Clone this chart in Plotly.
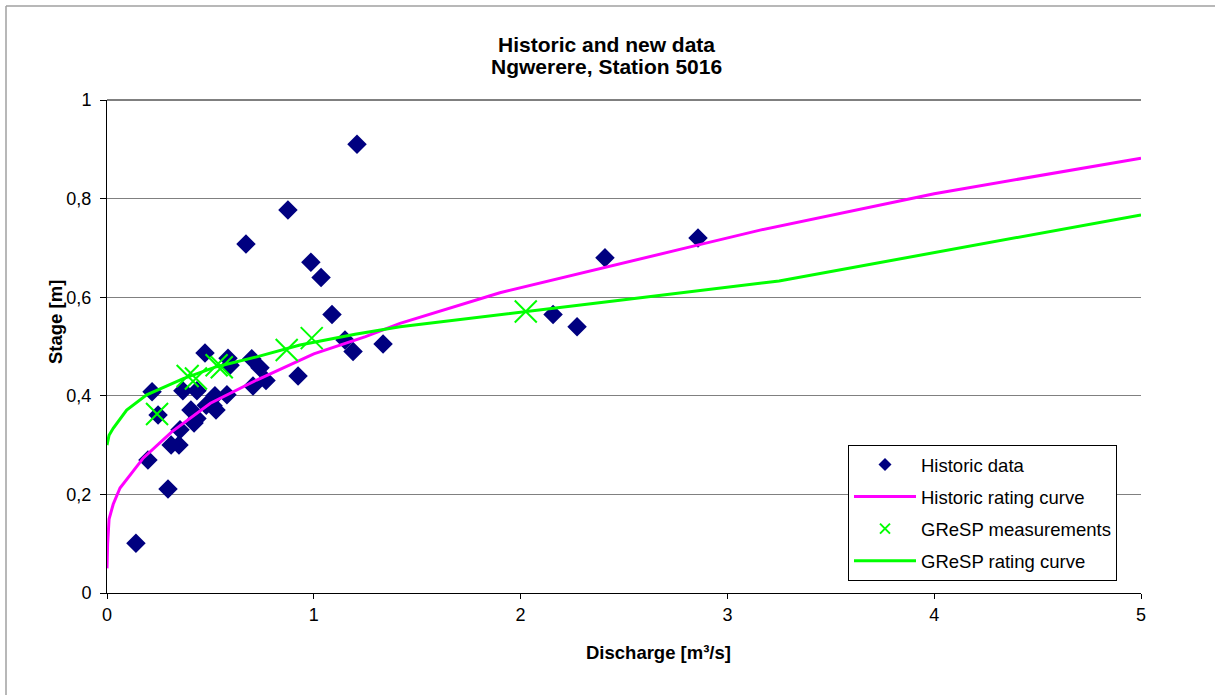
import plotly.graph_objects as go

# Historic data (discharge m3/s, stage m)
hist_q = [0.14, 0.198, 0.218, 0.247, 0.295, 0.31, 0.348, 0.353, 0.367, 0.406, 0.421, 0.435,
          0.435, 0.474, 0.48, 0.513, 0.522, 0.527, 0.58, 0.585, 0.595, 0.672, 0.70, 0.706,
          0.74, 0.769, 0.875, 0.924, 0.986, 1.035, 1.088, 1.151, 1.19, 1.209, 1.335,
          2.157, 2.273, 2.408, 2.858]
hist_h = [0.101, 0.27, 0.408, 0.361, 0.211, 0.30, 0.30, 0.331, 0.41, 0.371, 0.345, 0.41,
          0.354, 0.487, 0.381, 0.38, 0.40, 0.371, 0.402, 0.476, 0.462, 0.708, 0.475, 0.42,
          0.457, 0.431, 0.777, 0.44, 0.671, 0.64, 0.565, 0.513, 0.49, 0.91, 0.505,
          0.565, 0.54, 0.68, 0.72]

# Historic rating curve
hrc_q = [0.0, 0.003, 0.01, 0.03, 0.063, 0.176, 0.313, 0.5, 0.724, 1.0, 1.25, 1.417,
         1.9, 2.3, 2.8, 3.158, 4.0, 5.0]
hrc_h = [0.05, 0.10, 0.15, 0.18, 0.213, 0.274, 0.327, 0.385, 0.432, 0.485, 0.52, 0.547,
         0.609, 0.65, 0.70, 0.736, 0.81, 0.882]

# GReSP measurements
gm_q = [0.242, 0.39, 0.43, 0.53, 0.555, 0.869, 0.99, 2.025]
gm_h = [0.363, 0.44, 0.435, 0.462, 0.458, 0.493, 0.517, 0.571]

# GReSP rating curve
grc_q = [0.0, 0.01, 0.03, 0.095, 0.192, 0.369, 0.53, 0.724, 0.933, 1.2, 1.417, 1.9,
         2.5, 3.25, 4.0, 5.0]
grc_h = [0.30, 0.32, 0.334, 0.371, 0.402, 0.435, 0.459, 0.479, 0.503, 0.525, 0.54, 0.565,
         0.595, 0.633, 0.69, 0.767]

x_ticks = [0, 1, 2, 3, 4, 5]
y_ticks = [0, 0.2, 0.4, 0.6, 0.8, 1]

title_lines = ["Historic and new data", "Ngwerere, Station 5016"]

FONT = "Liberation Sans, Arial, sans-serif"
NAVY = "#000080"
MAGENTA = "#FF00FF"
LIME = "#00FF00"

fig = go.Figure()
# data traces (legend entries drawn by the legend-only traces below)
fig.add_trace(go.Scatter(x=hist_q, y=hist_h, mode="markers", showlegend=False,
                         marker=dict(symbol="diamond", size=15, color=NAVY,
                                     line=dict(width=0))))
fig.add_trace(go.Scatter(x=hrc_q, y=hrc_h, mode="lines", showlegend=False,
                         line=dict(color=MAGENTA, width=3)))
fig.add_trace(go.Scatter(x=gm_q, y=gm_h, mode="markers", showlegend=False,
                         marker=dict(symbol="x-thin", size=22, color=LIME,
                                     line=dict(width=2, color=LIME))))
fig.add_trace(go.Scatter(x=grc_q, y=grc_h, mode="lines", showlegend=False,
                         line=dict(color=LIME, width=3)))

# legend entries with smaller symbols
fig.add_trace(go.Scatter(x=[None], y=[None], mode="markers", name="Historic data",
                         legendgroup="a",
                         marker=dict(symbol="diamond", size=10, color=NAVY)))
fig.add_trace(go.Scatter(x=[None], y=[None], mode="lines", name="Historic rating curve",
                         legendgroup="b", line=dict(color=MAGENTA, width=3)))
fig.add_trace(go.Scatter(x=[None], y=[None], mode="markers", name="GReSP measurements",
                         legendgroup="c",
                         marker=dict(symbol="x-thin", size=10, color=LIME,
                                     line=dict(width=2, color=LIME))))
fig.add_trace(go.Scatter(x=[None], y=[None], mode="lines", name="GReSP rating curve",
                         legendgroup="d", line=dict(color=LIME, width=3)))

W, H = 1215, 695
L, T = 107, 100
PW, PH = 1034, 493


def px_x(page_x):
    return (page_x - L) / PW


def px_y(page_y):
    return (T + PH - page_y) / PH


fig.update_layout(
    width=W, height=H,
    margin=dict(l=L, r=W - L - PW, t=T, b=H - T - PH),
    paper_bgcolor="white", plot_bgcolor="white",
    separators=", ",
    font=dict(family=FONT, size=18, color="black"),
    xaxis=dict(range=[0, 5], tickvals=x_ticks, showgrid=False, zeroline=False,
               showline=True, linecolor="black", linewidth=1,
               ticks="outside", ticklen=5, tickcolor="black",
               tickfont=dict(family=FONT, size=18)),
    yaxis=dict(range=[0, 1], tickvals=y_ticks, showgrid=True, gridcolor="#808080",
               gridwidth=1, zeroline=False, showline=True, linecolor="black", linewidth=1,
               ticks="outside", ticklen=6, tickcolor="black", ticklabelstandoff=5,
               tickfont=dict(family=FONT, size=18)),
    legend=dict(x=px_x(848), y=px_y(445), xanchor="left", yanchor="top",
                bgcolor="white", bordercolor="black", borderwidth=1,
                font=dict(family=FONT, size=18.5), itemwidth=62,
                tracegroupgap=5),
    showlegend=True,
)

# top border line of plot area and outer frame
fig.add_shape(type="line", xref="paper", yref="paper", x0=0, x1=1, y0=1, y1=1,
              line=dict(color="black", width=1))
fig.add_shape(type="line", xref="paper", yref="paper", x0=px_x(6), x1=px_x(6),
              y0=px_y(700), y1=px_y(6), line=dict(color="#A0A0A0", width=1.5))
fig.add_shape(type="line", xref="paper", yref="paper", x0=px_x(6), x1=px_x(1220),
              y0=px_y(6), y1=px_y(6), line=dict(color="#A0A0A0", width=1.5))

# title (two lines)
for line_text, yc in zip(title_lines, [45, 67]):
    fig.add_annotation(text="<b>" + line_text + "</b>", xref="paper", yref="paper",
                       x=px_x(606), y=px_y(yc), showarrow=False,
                       xanchor="center", yanchor="middle",
                       font=dict(family=FONT, size=21, color="black"))

fig.add_annotation(text="<b>Discharge [m³/s]</b>", xref="paper", yref="paper",
                   x=px_x(658), y=px_y(652), showarrow=False,
                   xanchor="center", yanchor="middle",
                   font=dict(family=FONT, size=18.5, color="black"))
fig.add_annotation(text="<b>Stage [m]</b>", xref="paper", yref="paper",
                   x=px_x(55), y=px_y(322), showarrow=False,
                   textangle=-90, xanchor="center", yanchor="middle",
                   font=dict(family=FONT, size=18.5, color="black"))

post = ("document.documentElement.style.overflow='hidden';"
        "document.body.style.margin='0';"
        "document.body.style.overflow='hidden';")

fig.write_html("out.html", post_script=post, config={"displayModeBar": False})
